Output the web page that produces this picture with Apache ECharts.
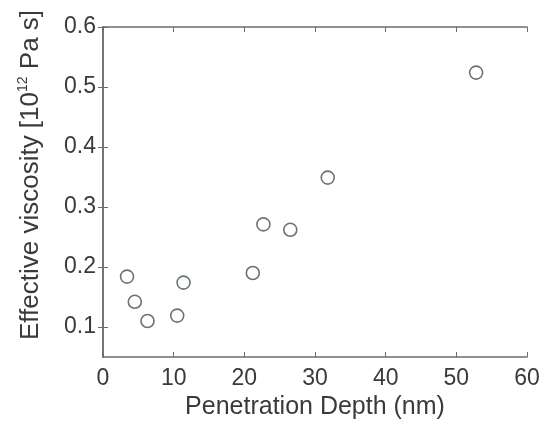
<!DOCTYPE html>
<html lang="en">
<head>
    <meta charset="UTF-8">
    <title>Effective viscosity</title>
    <script src="https://cdn.jsdelivr.net/npm/echarts@6/dist/echarts.min.js"></script>
    <style>
        html, body { margin: 0; padding: 0; background: #fff; }
        #main { width: 541px; height: 421px; }
    </style>
</head>
<body>
<div id="main"></div>
<script type="text/javascript">
    // 数据：穿透深度 (nm) 与 有效黏度 (10^12 Pa s)
    var depth = [3.4, 4.5, 6.3, 10.5, 11.4, 21.2, 22.7, 26.5, 31.8, 52.8];
    var viscosity = [0.184, 0.142, 0.110, 0.119, 0.174, 0.190, 0.271, 0.262, 0.349, 0.524];
    // 刻度
    var yTicks = [0.1, 0.2, 0.3, 0.4, 0.5, 0.6];

    var frameColor = '#6f6b67';
    var textColor = '#3a3a3a';
    var fontName = 'Liberation Sans, Arial, sans-serif';

    var points = [];
    for (var i = 0; i < depth.length; i++) {
        points.push([depth[i], viscosity[i]]);
    }

    var myEcharts = echarts.init(document.getElementById("main"));
    var option = {
        backgroundColor: '#fff',
        animation: false,
        grid: {left: 103, right: 14, top: 27, bottom: 64, containLabel: false, outerBoundsMode: 'none'},
        xAxis: [
            {
                type: 'value', position: 'bottom', min: 0, max: 60, interval: 10,
                name: 'Penetration Depth (nm)', nameLocation: 'middle', nameGap: 38,
                nameTextStyle: {fontSize: 25, color: textColor, fontFamily: fontName},
                axisLine: {lineStyle: {color: frameColor, width: 1.5}},
                axisTick: {inside: true, length: 5, lineStyle: {color: frameColor}},
                axisLabel: {fontSize: 23, color: textColor, fontFamily: fontName, margin: 10},
                splitLine: {show: false}
            },
            {
                type: 'value', position: 'top', min: 0, max: 60, interval: 10,
                axisLine: {lineStyle: {color: frameColor, width: 1.5}},
                axisTick: {inside: true, length: 5, lineStyle: {color: frameColor}},
                axisLabel: {show: false},
                splitLine: {show: false}
            }
        ],
        yAxis: [
            {
                type: 'value', position: 'left', min: 0.05, max: 0.6,
                name: '{a|Effective viscosity [10}{s|12}{a| Pa s]}',
                nameLocation: 'middle', nameGap: 57, nameRotate: 90,
                nameTextStyle: {
                    padding: [0, 0, 0, 34],
                    rich: {
                        a: {fontSize: 26, color: textColor, fontFamily: fontName, lineHeight: 30},
                        s: {fontSize: 14, color: textColor, fontFamily: fontName, lineHeight: 14, verticalAlign: 'top'}
                    }
                },
                axisLine: {lineStyle: {color: frameColor, width: 1.5}},
                axisTick: {inside: true, length: 5, lineStyle: {color: frameColor}, customValues: yTicks},
                axisLabel: {
                    fontSize: 23, color: textColor, fontFamily: fontName, margin: 7,
                    customValues: yTicks,
                    formatter: function (v) { return v.toFixed(1); }
                },
                splitLine: {show: false}
            },
            {
                type: 'value', position: 'right', min: 0.05, max: 0.6,
                axisLine: {lineStyle: {color: frameColor, width: 1.5}},
                axisTick: {inside: true, length: 5, lineStyle: {color: frameColor}, customValues: yTicks},
                axisLabel: {show: false},
                splitLine: {show: false}
            }
        ],
        series: [
            {
                type: 'scatter',
                xAxisIndex: 0,
                yAxisIndex: 0,
                symbol: 'circle',
                symbolSize: 13,
                itemStyle: {color: 'transparent', borderColor: '#44504f', borderWidth: 1.6},
                data: points
            }
        ]
    };
    myEcharts.setOption(option);
</script>
</body>
</html>
